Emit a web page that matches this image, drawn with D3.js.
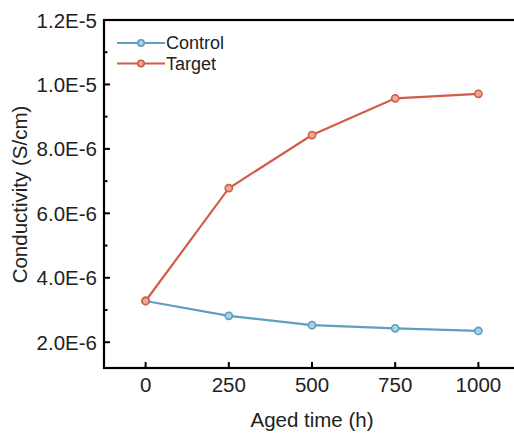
<!DOCTYPE html>
<html>
<head>
<meta charset="utf-8">
<script src="https://cdn.jsdelivr.net/npm/d3@7"></script>
<style>
  html, body { margin: 0; padding: 0; background: #fff; }
  svg { display: block; font-family: "Liberation Sans", Arial, sans-serif; }
</style>
</head>
<body>
<div id="chart"></div>
<script>
const agedTime = [0, 250, 500, 750, 1000];
const controlValues = [3.28e-6, 2.82e-6, 2.53e-6, 2.43e-6, 2.35e-6];
const targetValues = [3.28e-6, 6.78e-6, 8.43e-6, 9.57e-6, 9.71e-6];
const yTickValues = [2e-6, 4e-6, 6e-6, 8e-6, 1e-5, 1.2e-5];
const yTickLabels = ["2.0E-6", "4.0E-6", "6.0E-6", "8.0E-6", "1.0E-5", "1.2E-5"];
const seriesNames = ["Control", "Target"];

const W = 514, H = 439;
const margin = { left: 104, top: 20, right: -6, bottom: 71 };
const innerW = W - margin.left - margin.right;
const innerH = H - margin.top - margin.bottom;
const fontSize = "20.5px";

const colors = { Control: "#5d9ec2", Target: "#cf5d48" };
const fills = { Control: "#a9d0e3", Target: "#eea893" };

const svg = d3.select("#chart").append("svg")
  .attr("width", W).attr("height", H);

const g = svg.append("g").attr("transform", `translate(${margin.left},${margin.top})`);

const x = d3.scaleLinear().domain([-125, 1125]).range([0, innerW]);
const y = d3.scaleLinear().domain([1.2e-6, 1.2e-5]).range([innerH, 0]);

/* Frame (right edge runs off the picture) */
g.append("rect").attr("x", 0).attr("y", 0).attr("width", innerW).attr("height", innerH)
  .attr("fill", "none").attr("stroke", "#000").attr("stroke-width", 2.2);

/* Y axis: inward ticks, minor ticks at midpoints */
yTickValues.forEach((v, i) => {
  g.append("line").attr("x1", 0).attr("x2", 6).attr("y1", y(v)).attr("y2", y(v))
    .attr("stroke", "#000").attr("stroke-width", 2);
  g.append("text").attr("x", -7).attr("y", y(v)).attr("dy", "0.37em")
    .attr("text-anchor", "end").attr("font-size", fontSize).attr("fill", "#222")
    .text(yTickLabels[i]);
  if (i < yTickValues.length - 1) {
    const m = (v + yTickValues[i + 1]) / 2;
    g.append("line").attr("x1", 0).attr("x2", 3.5).attr("y1", y(m)).attr("y2", y(m))
      .attr("stroke", "#000").attr("stroke-width", 2);
  }
});

/* X axis */
agedTime.forEach(t => {
  g.append("line").attr("x1", x(t)).attr("x2", x(t)).attr("y1", innerH).attr("y2", innerH - 6)
    .attr("stroke", "#000").attr("stroke-width", 2);
  g.append("text").attr("x", x(t)).attr("y", innerH + 24)
    .attr("text-anchor", "middle").attr("font-size", fontSize).attr("fill", "#222")
    .text(t);
});

/* Axis titles */
g.append("text").attr("x", x(500)).attr("y", innerH + 59)
  .attr("text-anchor", "middle").attr("font-size", fontSize).attr("fill", "#222")
  .text("Aged time (h)");
svg.append("text")
  .attr("transform", "translate(27,194.5) rotate(-90)")
  .attr("text-anchor", "middle").attr("font-size", fontSize).attr("fill", "#222")
  .text("Conductivity (S/cm)");

/* Series */
const line = d3.line().x(d => x(d[0])).y(d => y(d[1]));
const series = [
  { name: "Control", values: controlValues },
  { name: "Target", values: targetValues }
];

series.forEach(s => {
  const pts = agedTime.map((t, i) => [t, s.values[i]]);
  g.append("path").datum(pts).attr("d", line)
    .attr("fill", "none").attr("stroke", colors[s.name]).attr("stroke-width", 2.2);
  g.selectAll(null).data(pts).enter().append("circle")
    .attr("cx", d => x(d[0])).attr("cy", d => y(d[1])).attr("r", 3.6)
    .attr("fill", fills[s.name]).attr("stroke", colors[s.name]).attr("stroke-width", 1.6);
});

/* Legend */
seriesNames.forEach((name, i) => {
  const ly = 23 + i * 20.5;
  g.append("line").attr("x1", 13).attr("x2", 61).attr("y1", ly).attr("y2", ly)
    .attr("stroke", colors[name]).attr("stroke-width", 2.2);
  g.append("circle").attr("cx", 37).attr("cy", ly).attr("r", 3.2)
    .attr("fill", fills[name]).attr("stroke", colors[name]).attr("stroke-width", 1.6);
  g.append("text").attr("x", 62).attr("y", ly).attr("dy", "0.36em")
    .attr("font-size", "18px").attr("fill", "#222").text(name);
});
</script>
</body>
</html>
